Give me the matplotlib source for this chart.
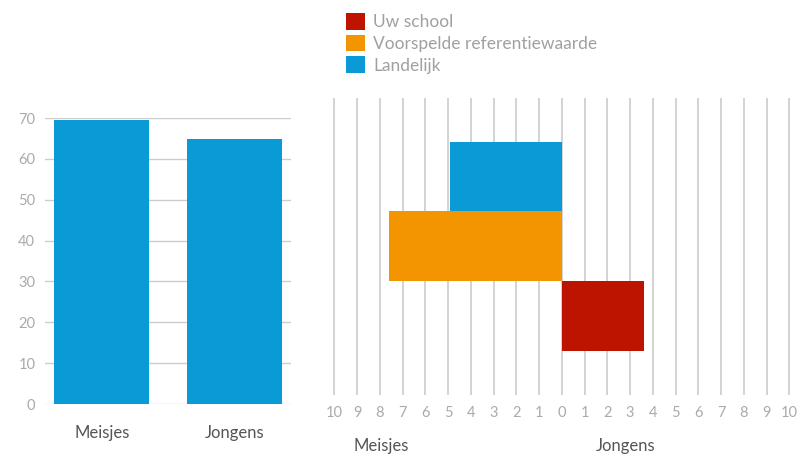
import matplotlib
matplotlib.use("Agg")
import matplotlib.pyplot as plt
from matplotlib.patches import Patch

plt.rcParams['font.family'] = ['Lato', 'DejaVu Sans']

# Left panel: national share per gender
groups = ["Meisjes", "Jongens"]
group_values = [69.5, 64.8]
y_ticks = [0, 10, 20, 30, 40, 50, 60, 70]

# Right panel: deviation per series (negative = Meisjes side, positive = Jongens side)
series = ["Uw school", "Voorspelde referentiewaarde", "Landelijk"]
series_values = [3.6, -7.6, -4.9]
series_colors = ["#bd1400", "#f29500", "#0a9bd6"]
x_ticks = list(range(-10, 11))
x_tick_labels = [str(abs(t)) for t in x_ticks]
side_labels = ["Meisjes", "Jongens"]

BLUE = "#0a9bd6"
GRID = "#cccccc"
TICK = "#aaaaaa"
LABEL = "#555555"

W, H = 798, 457
fig = plt.figure(figsize=(W / 100, H / 100), dpi=100)

def box(x0, y0, x1, y1):
    return [x0 / W, 1 - y1 / H, (x1 - x0) / W, (y1 - y0) / H]

# ---- left bar chart ----
ax1 = fig.add_axes(box(45, 118, 291, 404))
ax1.bar(range(len(groups)), group_values, width=0.72, color=BLUE, zorder=2)
ax1.set_xlim(-0.43, 1.43)
ax1.set_ylim(0, 70)
ax1.set_yticks(y_ticks)
ax1.set_xticks(range(len(groups)))
ax1.set_xticklabels(groups)
ax1.yaxis.grid(True, color=GRID, linewidth=1)
ax1.set_axisbelow(True)
for s in ax1.spines.values():
    s.set_visible(False)
ax1.tick_params(axis='y', length=0, pad=7, labelsize=10.5, labelcolor=TICK)
ax1.tick_params(axis='x', length=0, pad=15, labelsize=12, labelcolor=LABEL)

# ---- right diverging chart ----
pad = 0.3
ux = 22.75
ax2 = fig.add_axes(box(334.3 - pad * ux, 97.7, 789.3 + pad * ux, 395))
ypos = list(range(len(series)))
ax2.barh(ypos, series_values, height=1.0, color=series_colors, zorder=2)
ax2.set_xlim(-10 - pad, 10 + pad)
ax2.set_ylim(-1.13, 3.13)
ax2.set_xticks(x_ticks)
ax2.set_xticklabels(x_tick_labels)
ax2.set_yticks([])
ax2.xaxis.grid(True, color=GRID, linewidth=1.2)
ax2.set_axisbelow(True)
for s in ax2.spines.values():
    s.set_visible(False)
ax2.tick_params(axis='x', length=0, pad=8, labelsize=10.5, labelcolor=TICK)

# Side labels under the axis
for name, xd in zip(side_labels, [-7.95, 2.82]):
    ax2.text(xd, -(451 - 395) / 297, name, transform=ax2.get_xaxis_transform(),
             ha='center', va='baseline', fontsize=12, color=LABEL)

# ---- legend ----
handles = [Patch(facecolor=c, edgecolor='none') for c in series_colors]
leg = fig.legend(handles, series, loc='upper left',
                 bbox_to_anchor=(334 / W, 1 - 1 / H), frameon=False,
                 prop={'size': 12.5},
                 handlelength=1.1, handleheight=1.1,
                 handletextpad=0.45, labelspacing=0.25, borderpad=0.2,
                 labelcolor="#a0a0a0")

fig.savefig("out.png", dpi=100)
